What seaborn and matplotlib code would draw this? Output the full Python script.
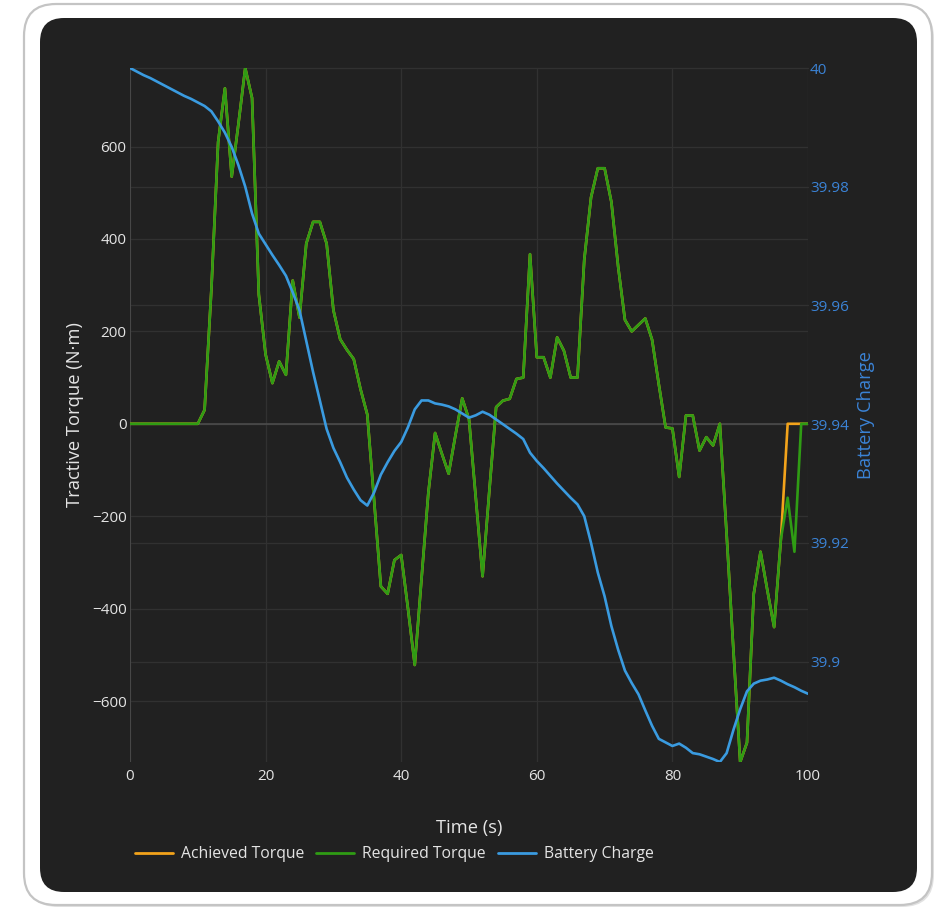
import matplotlib
matplotlib.use("Agg")
import matplotlib.pyplot as plt
import matplotlib.transforms as mtransforms
from matplotlib.patches import FancyBboxPatch
from matplotlib.lines import Line2D
from matplotlib.ticker import FuncFormatter
import pandas as pd
import seaborn as sns

# ---- data -------------------------------------------------------------
time_s = list(range(0, 101))

required_torque = [
    0, 0, 0, 0, 0, 0, 0, 0, 0, 0, 0,
    30, 290, 610, 726, 535, 650, 770, 705, 280, 150,
    88, 135, 106, 310, 230, 390, 437, 437, 390, 246,
    183, 160, 140, 75, 20, -165, -352, -368, -295, -284,
    -400, -522, -335, -150, -20, -65, -108, -25, 55, 10,
    -160, -330, -145, 36, 50, 54, 97, 100, 367, 144,
    144, 100, 187, 158, 100, 100, 355, 490, 553, 553,
    480, 340, 225, 200, 214, 228, 182, 85, -8, -10,
    -115, 18, 18, -58, -29, -47, 0, -240, -490, -732,
    -690, -368, -277, -360, -440, -250, -160, -277, 0, 0,
]

achieved_torque = [
    0, 0, 0, 0, 0, 0, 0, 0, 0, 0, 0,
    30, 290, 610, 726, 535, 650, 770, 705, 280, 150,
    88, 135, 106, 310, 230, 390, 437, 437, 390, 246,
    183, 160, 140, 75, 20, -165, -352, -368, -295, -284,
    -400, -522, -335, -150, -20, -65, -108, -25, 55, 10,
    -160, -330, -145, 36, 50, 54, 97, 100, 367, 144,
    144, 100, 187, 158, 100, 100, 355, 490, 553, 553,
    480, 340, 225, 200, 214, 228, 182, 85, -8, -10,
    -115, 18, 18, -58, -29, -47, 0, -240, -490, -732,
    -690, -368, -277, -360, -440, -250, 0, 0, 0, 0,
]

battery_charge = [
    40.0000, 39.9994, 39.9988, 39.9983, 39.9977, 39.9971, 39.9965, 39.9959, 39.9953, 39.9948, 39.9942,
    39.9936, 39.9927, 39.9910, 39.9891, 39.9867, 39.9836, 39.9800, 39.9755, 39.9721, 39.9703,
    39.9685, 39.9668, 39.9650, 39.9622, 39.9592, 39.9540, 39.9488, 39.9440, 39.9392, 39.9360,
    39.9336, 39.9310, 39.9290, 39.9272, 39.9263, 39.9285, 39.9315, 39.9336, 39.9355, 39.9370,
    39.9395, 39.9425, 39.9440, 39.9440, 39.9435, 39.9433, 39.9430, 39.9425, 39.9418, 39.9411,
    39.9415, 39.9421, 39.9416, 39.9408, 39.9400, 39.9392, 39.9384, 39.9375, 39.9352, 39.9338,
    39.9326, 39.9313, 39.9300, 39.9288, 39.9276, 39.9265, 39.9245, 39.9200, 39.9150, 39.9110,
    39.9060, 39.9020, 39.8985, 39.8964, 39.8945, 39.8918, 39.8892, 39.8870, 39.8864, 39.8858,
    39.8862, 39.8855, 39.8846, 39.8844, 39.8840, 39.8836, 39.8831, 39.8846, 39.8885, 39.8920,
    39.8950, 39.8963, 39.8968, 39.8970, 39.8973, 39.8968, 39.8962, 39.8957, 39.8951, 39.8946,
]

time_ticks = [0, 20, 40, 60, 80, 100]
torque_ticks = [-600, -400, -200, 0, 200, 400, 600]
charge_ticks = [39.90, 39.92, 39.94, 39.96, 39.98, 40.00]
series_names = ["Achieved Torque", "Required Torque", "Battery Charge"]

# ---- style ------------------------------------------------------------
ACHIEVED_C = "#f2a31b"
REQUIRED_C = "#2f9c14"
BATTERY_C = "#3a9be0"
PANEL_C = "#212121"
GRID_C = "#313131"
ZERO_C = "#4e4e4e"
TEXT_C = "#e4e4e4"
RIGHT_C = "#3b83d6"

sns.set_style("dark")
plt.rcParams["font.family"] = ["Open Sans", "DejaVu Sans"]
plt.rcParams["axes.unicode_minus"] = True

df = pd.DataFrame({
    "time": time_s,
    "required": required_torque,
    "achieved": achieved_torque,
    "charge": battery_charge,
})

W, H = 943, 907
fig = plt.figure(figsize=(W / 100, H / 100), dpi=100, facecolor="white")

# card and dark panel, positioned in inches
shadow = FancyBboxPatch((0.26, 0.0), 9.08, 9.01,
                        boxstyle="round,pad=0,rounding_size=0.32",
                        transform=fig.dpi_scale_trans, facecolor="#e2e2e2",
                        edgecolor="none", zorder=-12)
card = FancyBboxPatch((0.24, 0.02), 9.08, 9.01,
                      boxstyle="round,pad=0,rounding_size=0.32",
                      transform=fig.dpi_scale_trans, facecolor="white",
                      edgecolor="#c4c4c4", linewidth=1.6, zorder=-11)
panel = FancyBboxPatch((0.40, 0.15), 8.77, 8.74,
                       boxstyle="round,pad=0,rounding_size=0.24",
                       transform=fig.dpi_scale_trans, facecolor=PANEL_C,
                       edgecolor="none", zorder=-10)
for p in (shadow, card, panel):
    fig.add_artist(p)

ax = fig.add_axes([130 / W, 1 - 762 / H, 678 / W, 694 / H])
ax.patch.set_alpha(0)
ax2 = ax.twinx()
ax2.patch.set_alpha(0)

# torque traces (left axis)
sns.lineplot(data=df, x="time", y="achieved", ax=ax, color=ACHIEVED_C,
             linewidth=1.9, estimator=None, sort=False, legend=False, zorder=3)
sns.lineplot(data=df, x="time", y="required", ax=ax, color=REQUIRED_C,
             linewidth=1.9, estimator=None, sort=False, legend=False, zorder=4)
# battery trace (right axis)
sns.lineplot(data=df, x="time", y="charge", ax=ax2, color=BATTERY_C,
             linewidth=1.9, estimator=None, sort=False, legend=False, zorder=3)

tmin, tmax = min(time_s), max(time_s)
ax.set_xlim(tmin, tmax)
ax.set_ylim(min(required_torque + achieved_torque), max(required_torque + achieved_torque))
ax2.set_ylim(min(battery_charge), max(battery_charge))

# grids
ax.set_xticks(time_ticks)
ax.set_yticks(torque_ticks)
ax2.set_yticks(charge_ticks)
ax.grid(True, color=GRID_C, linewidth=0.9, zorder=0)
ax.set_axisbelow(True)
ax2.grid(False)
right_grid_tf = mtransforms.blended_transform_factory(ax.transAxes, ax2.transData)
for v in charge_ticks:
    ax.plot([0, 1], [v, v], transform=right_grid_tf, color=GRID_C,
            linewidth=0.9, zorder=0.5, clip_on=False)
ax.axhline(0, color=ZERO_C, linewidth=1.1, zorder=1)
ax.axvline(0, color=ZERO_C, linewidth=1.1, zorder=1)

for a in (ax, ax2):
    for s in a.spines.values():
        s.set_visible(False)

fmt = FuncFormatter(lambda v, _: f"{v:g}".replace("-", "\u2212"))
ax.xaxis.set_major_formatter(fmt)
ax.yaxis.set_major_formatter(fmt)
ax2.yaxis.set_major_formatter(FuncFormatter(lambda v, _: f"{v:g}"))

ax.tick_params(axis="x", length=0, pad=5, labelsize=11, labelcolor=TEXT_C)
ax.tick_params(axis="y", length=0, pad=2.5, labelsize=11, labelcolor=TEXT_C)
ax2.tick_params(axis="y", length=0, pad=1.5, labelsize=11, labelcolor=RIGHT_C)

ax.set_xlabel("Time (s)", fontsize=13.2, color=TEXT_C)
ax.xaxis.set_label_coords(0.5, -0.082)
ax.set_ylabel("Tractive Torque (N\u00b7m)", fontsize=13.2, color=TEXT_C)
ax.yaxis.set_label_coords(-0.068, 0.5)
ax2.set_ylabel("Battery Charge", fontsize=13.2, color=RIGHT_C)
ax2.yaxis.set_label_coords(1.072, 0.5)

handles = [Line2D([], [], color=c, linewidth=2) for c in (ACHIEVED_C, REQUIRED_C, BATTERY_C)]
leg = fig.legend(handles, series_names, loc="center left",
                 bbox_to_anchor=(135 / W, 1 - 854 / H), ncol=3, frameon=False,
                 fontsize=11.3, handlelength=2.4, handletextpad=0.5,
                 columnspacing=0.8, borderpad=0, borderaxespad=0)
for t in leg.get_texts():
    t.set_color(TEXT_C)

fig.savefig("out.png", dpi=100, facecolor="white")
